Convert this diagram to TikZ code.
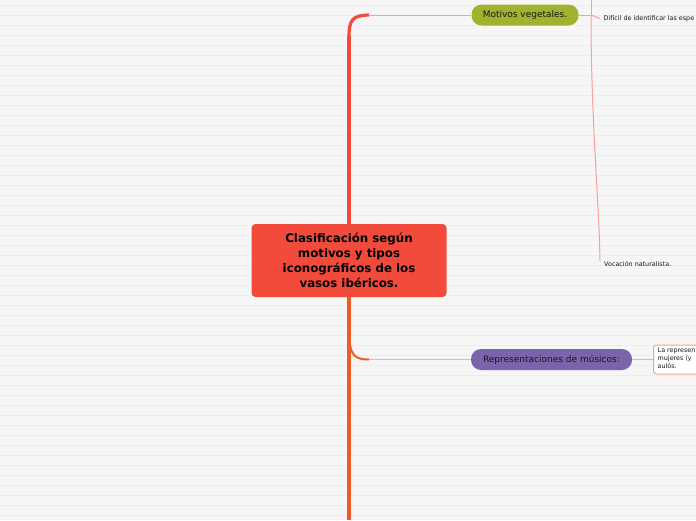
\documentclass[tikz,border=0pt]{standalone}
\usepackage{fontspec}
\setmainfont{DejaVu Sans}
\definecolor{bgc}{HTML}{F6F6F6}
\definecolor{stripe}{HTML}{EDEDED}
\definecolor{cred}{HTML}{F24A3B}
\definecolor{corange}{HTML}{F05A2A}
\definecolor{cgreen}{HTML}{A0B22E}
\definecolor{cpurple}{HTML}{7B64AB}
\definecolor{pinkline}{HTML}{F4A0A0}
\definecolor{orline}{HTML}{F5B09A}
\definecolor{boxborder}{HTML}{F4A682}
\tikzset{
  central/.style={fill=cred, rounded corners=4pt, minimum width=195pt, minimum height=73pt, inner sep=0pt, align=center, font=\fontsize{11.8}{15}\selectfont\bfseries, text=black},
  pill/.style={rounded corners=10pt, minimum height=21pt, inner sep=0pt, font=\fontsize{9}{11}\selectfont, text=black!90},
  smalltxt/.style={anchor=west, inner sep=0pt, font=\fontsize{6.4}{8}\selectfont, text=black!90},
  thinpink/.style={draw=pinkline, line width=1pt},
  thinor/.style={draw=orline, line width=1pt},
}
\begin{document}
\begin{tikzpicture}[x=1pt,y=-1pt]
\useasboundingbox (0,0) rectangle (696,520);
\clip (0,0) rectangle (696,520);
\fill[bgc] (0,0) rectangle (696,520);
\foreach \k in {0,...,51} {\draw[stripe, line width=1pt] (0,5+10*\k) -- (696,5+10*\k);}

% nodes
\node[central] (c) at (349,260.5) {Clasificación según\\motivos y tipos\\iconográficos de los\\vasos ibéricos.};
\node[pill, fill=cgreen, minimum width=107pt] (mv) at (525,15) {Motivos vegetales.};
\node[pill, fill=cpurple, minimum width=161pt] (rm) at (551.5,359.5) {Representaciones de músicos:};
\node[smalltxt] (dif) at (603.5,18.5) {Difícil de identificar las espe};
\node[smalltxt] (voc) at (604,263.5) {Vocación naturalista.};
\node[draw=boxborder, fill=white!98!bgc, line width=1pt, rounded corners=3pt, anchor=west, minimum width=60pt, minimum height=29pt, inner sep=0pt] (lr) at (653,359.5) {};
\node[anchor=north west, inner sep=0pt, align=left, font=\fontsize{6.4}{8}\selectfont, text=black!90] (lrt) at (657.5,347.5) {La represen\\mujeres (y\\aulós.};

% coordinates
\coordinate (ttop) at (349,36);
\coordinate (tcurve) at (369,15);
\coordinate (bstart) at (349.5,338);
\coordinate (bcurve) at (369,359.5);
\coordinate (tbot) at (349,520);
\coordinate (hub) at (591,15);
\coordinate (hubtop) at (591,-5);
\coordinate (difend) at (600,18.5);
\coordinate (vocend) at (600,261);

% trunk
\draw[cred, line width=4.8pt] (c.north) -- (ttop);
\draw[cred, line width=3.2pt] (349,37) .. controls (349,19) and (353,15.5) .. (tcurve);
\draw[thinpink] (tcurve) -- (mv.west);
\draw[corange, line width=4.8pt] (c.south) -- (tbot);
\draw[corange, line width=2pt] (bstart) .. controls (350,356) and (356,359.5) .. (bcurve);
\draw[thinor] (bcurve) -- (rm.west);

% right side
\draw[thinpink] (mv.east) -- (hub);
\draw[thinpink] (hubtop) -- (hub);
\draw[thinpink] (hub) -- (difend);
\draw[thinpink] (hub) .. controls (591,120) and (599,200) .. (vocend);
\draw[thinor] (rm.east) -- (lr.west);
\end{tikzpicture}
\end{document}
